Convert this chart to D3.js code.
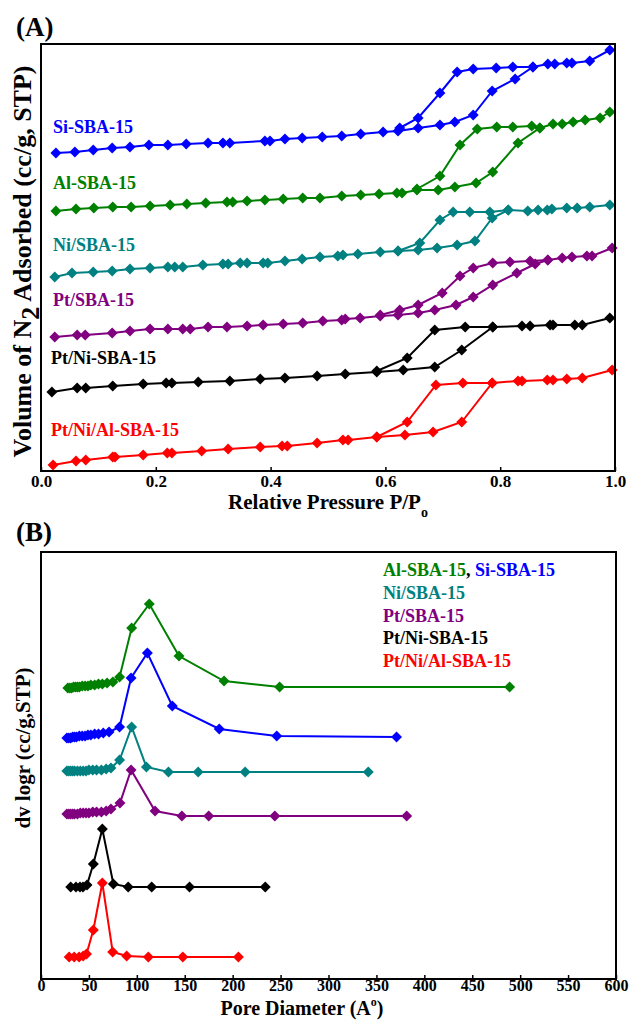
<!DOCTYPE html>
<html lang="en">
<head>
    <meta charset="UTF-8">
    <title>N2 isotherms and pore size distribution of SBA-15 samples</title>
    <script src="https://d3js.org/d3.v7.min.js"></script>
    <style>
        body {
            margin: 0;
            padding: 0;
            background-color: #fff;
        }

        svg text {
            font-family: "Liberation Serif", "Times New Roman", Times, serif;
            font-weight: bold;
        }

        .series-line {
            fill: none;
            stroke-width: 2px;
        }

        .frame {
            fill: none;
            stroke: #000;
            stroke-width: 2px;
        }
    </style>
</head>
<body>
<svg id="chart"></svg>

<script>
    // Panel A: relative pressure ticks and isotherm points [P/Po, volume (a.u.)]
    const pressureTicks = [0, 0.2, 0.4, 0.6, 0.8, 1.0];

    const siAds = [[0.026,318],[0.059,319],[0.091,321],[0.124,323],[0.155,324],[0.188,326],[0.221,326],[0.253,327],[0.291,328],[0.317,328],[0.329,328],[0.390,330],[0.399,330],[0.425,332],[0.455,333],[0.490,334],[0.524,335],[0.557,337],[0.596,339],[0.622,340],[0.657,343],[0.695,346],[0.721,349],[0.753,356],[0.786,380],[0.826,392],[0.857,404],[0.883,407],[0.895,407],[0.916,408],[0.925,408],[0.956,410],[0.991,421]];
    const siDes = [[0.625,343],[0.657,353],[0.695,378],[0.725,399],[0.753,402],[0.793,403],[0.822,404],[0.857,404]];

    const alAds = [[0.026,260],[0.061,262],[0.092,263],[0.125,264],[0.157,264],[0.190,265],[0.225,266],[0.254,267],[0.287,268],[0.324,269],[0.334,269],[0.359,270],[0.390,271],[0.422,272],[0.456,273],[0.486,273],[0.524,275],[0.557,276],[0.589,277],[0.620,278],[0.629,278],[0.655,281],[0.692,281],[0.721,284],[0.758,288],[0.787,299],[0.831,328],[0.869,343],[0.892,347],[0.908,347],[0.927,349],[0.948,351],[0.974,353],[0.991,359]];
    const alDes = [[0.655,282],[0.695,295],[0.730,326],[0.760,342],[0.794,344],[0.822,344],[0.855,345],[0.869,343]];

    const niAds = [[0.024,194],[0.054,198],[0.091,199],[0.124,200],[0.155,202],[0.190,203],[0.221,204],[0.233,204],[0.247,204],[0.282,206],[0.317,207],[0.326,207],[0.347,208],[0.359,208],[0.387,208],[0.395,208],[0.425,210],[0.455,212],[0.486,214],[0.517,215],[0.526,216],[0.552,217],[0.591,219],[0.622,220],[0.657,221],[0.690,223],[0.725,226],[0.756,230],[0.786,253],[0.814,261],[0.848,260],[0.866,261],[0.882,261],[0.890,262],[0.916,263],[0.934,263],[0.956,264],[0.991,266]];
    const niDes = [[0.622,220],[0.660,228],[0.695,251],[0.718,259],[0.747,259],[0.782,259],[0.814,261]];

    const ptAds = [[0.024,134],[0.063,136],[0.077,136],[0.124,138],[0.155,140],[0.190,142],[0.221,142],[0.247,142],[0.260,142],[0.291,144],[0.324,144],[0.359,145],[0.387,146],[0.422,147],[0.456,148],[0.491,150],[0.524,151],[0.530,152],[0.556,153],[0.591,155],[0.622,156],[0.657,158],[0.686,161],[0.723,166],[0.753,174],[0.787,186],[0.829,198],[0.861,207],[0.883,211],[0.908,213],[0.925,214],[0.951,215],[0.960,215],[0.995,223]];
    const ptDes = [[0.591,156],[0.625,161],[0.657,166],[0.699,178],[0.730,195],[0.753,203],[0.787,208],[0.817,209],[0.852,210],[0.883,211]];

    const ptNiAds = [[0.019,79],[0.063,83],[0.078,83],[0.125,85],[0.178,87],[0.218,88],[0.228,88],[0.274,89],[0.329,90],[0.382,92],[0.425,93],[0.481,95],[0.530,97],[0.585,99],[0.631,101],[0.686,104],[0.733,121],[0.787,144],[0.838,145],[0.852,145],[0.887,146],[0.892,146],[0.930,146],[0.943,146],[0.991,153]];
    const ptNiDes = [[0.585,100],[0.638,113],[0.686,141],[0.739,144],[0.787,144]];

    const ptNiAlAds = [[0.021,6],[0.061,10],[0.078,11],[0.125,14],[0.129,14],[0.178,16],[0.220,18],[0.228,18],[0.280,20],[0.326,22],[0.382,24],[0.420,25],[0.429,25],[0.481,28],[0.526,31],[0.535,31],[0.585,34],[0.634,36],[0.683,39],[0.733,49],[0.786,88],[0.831,90],[0.838,90],[0.882,91],[0.892,91],[0.916,92],[0.943,93],[0.995,101]];
    const ptNiAlDes = [[0.585,34],[0.638,49],[0.688,86],[0.735,88],[0.786,88]];

    // Panel B: pore diameter ticks and distribution points [diameter (A), dv logr (a.u.)]
    const poreTicks = [0, 50, 100, 150, 200, 250, 300, 350, 400, 450, 500, 550, 600];

    const alPsd = [[28,291],[30,291],[32,291],[34,292],[36,292],[38,292],[40,292],[43,293],[46,293],[49,293],[52,294],[56,294],[60,295],[64,295],[69,296],[75,297],[82,302],[94.6,351],[113,375],[144,323],[191,298],[249,292],[489,292]];
    const siPsd = [[27,241],[29,241],[31,241],[33,242],[35,242],[37,242],[40,243],[43,243],[46,243],[49,244],[52,244],[56,245],[60,245],[65,246],[71,247],[82,252],[94,301],[111,326],[137,273],[186,250],[246,243],[371,242]];
    const niPsd = [[27,208],[29,208],[31,208],[33,208],[35,208],[38,208],[41,208],[44,208],[47,208],[50,209],[54,209],[58,209],[63,209],[68,210],[73,211],[82,219],[94.6,252],[110,212],[133,207],[164,207],[213,207],[341.5,207]];
    const ptPsd = [[27,165],[29,165],[31,165],[33,165],[35,165],[38,165],[41,166],[44,166],[47,166],[50,166],[54,167],[58,167],[63,167],[68,168],[73,170],[82.4,176],[94,209],[119,168],[147,163],[175,163],[244,163],[381.6,163]];
    const ptNiPsd = [[31,92],[36.5,92],[40.7,92],[43.8,92],[48,94],[54.6,115],[64,150],[75.5,95],[91,92],[115.5,92],[155,92],[234,92]];
    const ptNiAlPsd = [[29.4,22],[34.6,22],[39.8,22],[44,23],[47.5,25],[54.6,49],[64,96],[74.8,27],[89.4,23],[112,22],[148,22],[206,22]];

    const sampleNames = ['Si-SBA-15', 'Al-SBA-15', 'Ni/SBA-15', 'Pt/SBA-15', 'Pt/Ni-SBA-15', 'Pt/Ni/Al-SBA-15'];
    const sampleColors = ['#0000ff', '#008000', '#008080', '#800080', '#000000', '#ff0000'];

    const isotherms = [
        { ads: siAds, des: siDes },
        { ads: alAds, des: alDes },
        { ads: niAds, des: niDes },
        { ads: ptAds, des: ptDes },
        { ads: ptNiAds, des: ptNiDes },
        { ads: ptNiAlAds, des: ptNiAlDes }
    ];
    const distributions = [siPsd, alPsd, niPsd, ptPsd, ptNiPsd, ptNiAlPsd];

    // label positions in panel A (a.u. volume for the baseline)
    const isoLabelY = [338, 282, 220, 165, 107, 35];

    const svg = d3.select('#chart')
        .attr('width', 630)
        .attr('height', 1020);

    const marker = d3.symbol().type(d3.symbolSquare).size(60);

    function drawSeries(g, points, color, x, y) {
        const line = d3.line().x(d => x(d[0])).y(d => y(d[1]));
        g.append('path')
            .datum(points)
            .attr('class', 'series-line')
            .attr('stroke', color)
            .attr('d', line);
        g.selectAll(null)
            .data(points)
            .join('path')
            .attr('d', marker)
            .attr('fill', color)
            .attr('transform', d => `translate(${x(d[0])},${y(d[1])}) rotate(45)`);
    }

    // ---------- Panel A ----------
    const a = { left: 41, right: 615, top: 44, bottom: 471 };
    const xA = d3.scaleLinear().domain([0, 1]).range([a.left, a.right]);
    const yA = d3.scaleLinear().domain([0, 427]).range([a.bottom, a.top]);

    const gA = svg.append('g');

    isotherms.forEach((s, i) => {
        drawSeries(gA, s.ads, sampleColors[i], xA, yA);
        drawSeries(gA, s.des, sampleColors[i], xA, yA);
        gA.append('text')
            .attr('x', i < 4 ? 53 : 51)
            .attr('y', yA(isoLabelY[i]))
            .attr('fill', sampleColors[i])
            .style('font-size', '18px')
            .text(sampleNames[i]);
    });

    gA.append('g')
        .attr('transform', `translate(0,${a.bottom})`)
        .call(d3.axisBottom(xA).tickValues(pressureTicks).tickFormat(d3.format('.1f')).tickSize(-4).tickPadding(4))
        .call(g => g.select('.domain').remove())
        .call(g => g.selectAll('line').attr('stroke-width', 1.5))
        .call(g => g.selectAll('text').style('font-size', '17px').attr('font-family', null));

    gA.append('rect')
        .attr('class', 'frame')
        .attr('x', a.left)
        .attr('y', a.top)
        .attr('width', a.right - a.left)
        .attr('height', a.bottom - a.top);

    const xTitleA = gA.append('text')
        .attr('x', (a.left + a.right) / 2)
        .attr('y', 509)
        .attr('text-anchor', 'middle')
        .style('font-size', '21px');
    xTitleA.append('tspan').text('Relative Pressure P/P');
    xTitleA.append('tspan').attr('dy', 8).style('font-size', '14px').text('o');

    const yTitleA = gA.append('text')
        .attr('transform', `translate(31,${(a.top + a.bottom) / 2 + 4}) rotate(-90)`)
        .attr('text-anchor', 'middle')
        .style('font-size', '26px');
    yTitleA.append('tspan').text('Volume of N');
    yTitleA.append('tspan').attr('dy', 8).text('2');
    yTitleA.append('tspan').attr('dy', -8).text(' Adsorbed (cc/g, STP)');

    svg.append('text')
        .attr('x', 16)
        .attr('y', 36)
        .style('font-size', '27px')
        .text('(A)');

    // ---------- Panel B ----------
    const b = { left: 41, right: 616, top: 552, bottom: 979 };
    const xB = d3.scaleLinear().domain([0, 600]).range([b.left, b.right]);
    const yB = d3.scaleLinear().domain([0, 427]).range([b.bottom, b.top]);

    const gB = svg.append('g');

    distributions.forEach((pts, i) => {
        drawSeries(gB, pts, sampleColors[i], xB, yB);
    });

    gB.append('g')
        .attr('transform', `translate(0,${b.bottom})`)
        .call(d3.axisBottom(xB).tickValues(poreTicks).tickFormat(d3.format('d')).tickSize(-4).tickPadding(1))
        .call(g => g.select('.domain').remove())
        .call(g => g.selectAll('line').attr('stroke-width', 1.5))
        .call(g => g.selectAll('text').style('font-size', '16px').attr('font-family', null));

    gB.append('rect')
        .attr('class', 'frame')
        .attr('x', b.left)
        .attr('y', b.top)
        .attr('width', b.right - b.left)
        .attr('height', b.bottom - b.top);

    // legend
    const legendX = 383;
    const legendY = [576, 599, 622, 644, 667];
    const first = gB.append('text')
        .attr('x', legendX)
        .attr('y', legendY[0])
        .style('font-size', '18px');
    first.append('tspan').attr('fill', sampleColors[1]).text(sampleNames[1]);
    first.append('tspan').attr('fill', '#000').text(', ');
    first.append('tspan').attr('fill', sampleColors[0]).text(sampleNames[0]);
    [2, 3, 4, 5].forEach((k, j) => {
        gB.append('text')
            .attr('x', legendX)
            .attr('y', legendY[j + 1])
            .attr('fill', sampleColors[k])
            .style('font-size', '18px')
            .text(sampleNames[k]);
    });

    const xTitleB = gB.append('text')
        .attr('x', 302)
        .attr('y', 1015)
        .attr('text-anchor', 'middle')
        .style('font-size', '20px');
    xTitleB.append('tspan').text('Pore Diameter (A');
    xTitleB.append('tspan').attr('dy', -9).style('font-size', '12px').text('o');
    xTitleB.append('tspan').attr('dy', 9).text(')');

    svg.append('text')
        .attr('transform', `translate(30,748) rotate(-90)`)
        .attr('text-anchor', 'middle')
        .style('font-size', '21px')
        .text('dv logr (cc/g,STP)');

    svg.append('text')
        .attr('x', 16)
        .attr('y', 541)
        .style('font-size', '27px')
        .text('(B)');
</script>
</body>
</html>
